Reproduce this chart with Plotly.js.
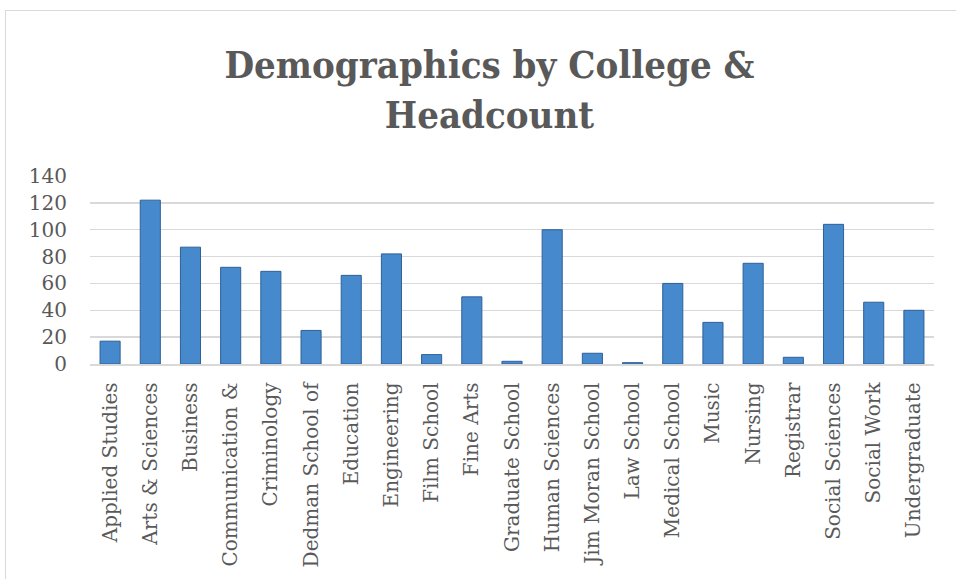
<!DOCTYPE html>
<html>
<head>
<meta charset="utf-8">
<script src="https://cdn.plot.ly/plotly-3.0.1.min.js"></script>
<style>
  html, body { margin: 0; padding: 0; background: #ffffff; }
  #wrap { position: relative; width: 956px; height: 579px; overflow: hidden; }
  #chart { width: 956px; height: 579px; }
  #frame { position: absolute; left: 5px; top: 10px; width: 1000px; height: 700px;
           border-left: 1.5px solid #d9d9d9; border-top: 1.5px solid #d9d9d9; pointer-events: none; }
</style>
</head>
<body>
<div id="wrap">
  <div id="chart"></div>
  <div id="frame"></div>
</div>
<script>
const colleges = [
  "Applied Studies", "Arts & Sciences", "Business", "Communication &",
  "Criminology", "Dedman School of", "Education", "Engineering",
  "Film School", "Fine Arts", "Graduate School", "Human Sciences",
  "Jim Moran School", "Law School", "Medical School", "Music",
  "Nursing", "Registrar", "Social Sciences", "Social Work", "Undergraduate"
];
const headcount = [17, 122, 87, 72, 69, 25, 66, 82, 7, 50, 2, 100, 8, 1, 60, 31, 75, 5, 104, 46, 40];
const yTicks = [0, 20, 40, 60, 80, 100, 120, 140];

const trace = {
  type: "bar",
  x: colleges,
  y: headcount,
  marker: { color: "#4689cc", line: { color: "#2f6097", width: 1 } },
  hoverinfo: "x+y"
};

const layout = {
  width: 956,
  height: 579,
  margin: { l: 90, r: 22, t: 176, b: 215 },
  paper_bgcolor: "rgba(0,0,0,0)",
  plot_bgcolor: "#ffffff",
  showlegend: false,
  bargap: 0.5,
  title: {
    text: "Demographics by College &<br>Headcount",
    font: { family: "DejaVu Serif Condensed, DejaVu Serif, serif", size: 38, color: "#595959", weight: 700 },
    xref: "container", x: 0.512, xanchor: "center",
    yref: "container", y: 0.865, yanchor: "top"
  },
  xaxis: {
    type: "category",
    tickangle: -90,
    tickfont: { family: "DejaVu Serif, serif", size: 20, color: "#595959" },
    ticklabelstandoff: 9,
    showgrid: false,
    showline: true, linecolor: "#d9d9d9", linewidth: 1.5,
    ticks: "", ticklen: 0
  },
  yaxis: {
    range: [0, 140],
    tickvals: yTicks,
    ticktext: yTicks.map(String),
    tickfont: { family: "DejaVu Serif, serif", size: 20, color: "#595959" },
    ticklabelstandoff: 22,
    showgrid: true, gridcolor: "#d9d9d9", gridwidth: 1.5,
    zeroline: false, showline: false, ticks: ""
  }
};

Plotly.newPlot("chart", [trace], layout, { displayModeBar: false, staticPlot: true });
</script>
</body>
</html>
